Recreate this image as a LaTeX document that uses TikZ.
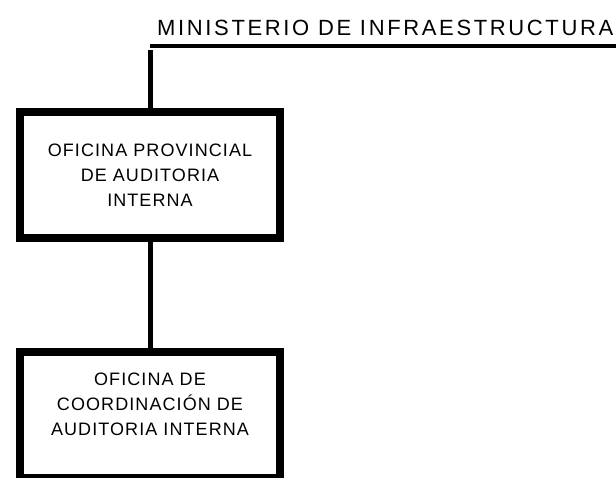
\documentclass[tikz,border=0pt]{standalone}
\usepackage{fontspec}
\setmainfont{Liberation Sans}
\newfontfamily\orgfont[LetterSpace=6]{Liberation Sans}
\newfontfamily\titlefont[LetterSpace=12]{Liberation Sans}
\usetikzlibrary{positioning}

\tikzset{
    unitbox/.style={draw, line width=8pt, minimum width=260pt, minimum height=126pt, inner sep=0pt},
    unittext/.style={align=center, inner sep=0pt, font=\orgfont\fontsize{18}{25}\selectfont},
    link/.style={line width=5pt},
}

\begin{document}
\begin{tikzpicture}[x=1pt, y=-1pt]
    % Frame (pixel coordinates, y down)
    \useasboundingbox (0,0) rectangle (616,478);

    % Define coordinates
    \coordinate (Rulestart) at (150,46);
    \coordinate (Ruleend) at (616,46);
    \coordinate (Linktop) at (150,50);

    % Ministry heading
    \node[anchor=base west, inner sep=0pt, font=\titlefont\fontsize{22}{25}\selectfont] (ministerio) at (157,36) {MINISTERIO DE INFRAESTRUCTURA};
    \draw[line width=4pt] (Rulestart) -- (Ruleend);

    % Boxes
    \node[unitbox] (provincial) at (150,175) {};
    \node[unitbox] (coordinacion) at (150,415) {};

    % Box texts
    \node[unittext] (provincialtext) at (150,175) {OFICINA PROVINCIAL\\DE AUDITORIA\\INTERNA};
    \node[unittext] (coordinaciontext) at (150,404) {OFICINA DE\\COORDINACIÓN DE\\AUDITORIA INTERNA};

    % Links
    \draw[link] (Linktop) -- (provincial.north);
    \draw[link] (provincial.south) -- (coordinacion.north);
\end{tikzpicture}
\end{document}
